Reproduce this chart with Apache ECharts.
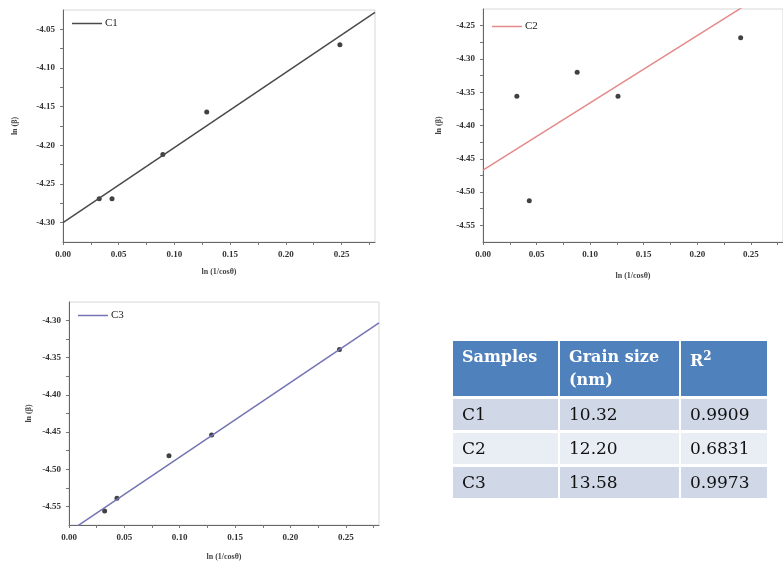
<!DOCTYPE html>
<html>
<head>
<meta charset="utf-8">
<script src="https://cdn.jsdelivr.net/npm/echarts@6/dist/echarts.min.js"></script>
<style>
  html, body { margin: 0; padding: 0; background: #fff; }
  #wrap { position: relative; width: 783px; height: 562px; }
  #chart { position: absolute; left: 0; top: 0; width: 783px; height: 562px; }
  #grain {
    position: absolute; left: 453px; top: 341px;
    border-collapse: separate; border-spacing: 0; table-layout: fixed;
    font-family: 'DejaVu Serif', serif; font-size: 17px; color: #111;
  }
  #grain th, #grain td {
    text-align: left; vertical-align: top;
    border-right: 2px solid #fff; border-bottom: 3px solid #fff;
    padding: 0 0 0 9px;
  }
  #grain th { background: #4f81bd; color: #fff; font-weight: bold; font-size: 16px; height: 51px; line-height: 23px; padding-top: 4px; }
  #grain td { height: 31px; line-height: 31px; }
  #grain tr.odd td { background: #d0d8e8; }
  #grain tr.even td { background: #e9edf4; }
</style>
</head>
<body>
<div id="wrap">
  <div id="chart"></div>
  <table id="grain"></table>
</div>
<script>
// x = ln(1/cos theta), y = ln(beta)
const xC1 = [0.0325, 0.044, 0.0896, 0.129, 0.2485];
const yC1 = [-4.269, -4.269, -4.212, -4.157, -4.070];
const xC2 = [0.0316, 0.0432, 0.0879, 0.126, 0.2405];
const yC2 = [-4.356, -4.513, -4.320, -4.356, -4.268];
const xC3 = [0.0322, 0.0433, 0.0903, 0.1288, 0.2443];
const yC3 = [-4.556, -4.539, -4.482, -4.454, -4.339];

// linear fit end points
const fitC1 = [[0, -4.300], [0.28, -4.028]];
const fitC2 = [[0, -4.467], [0.28, -4.184]];
const fitC3 = [[0, -4.584], [0.28, -4.303]];

const sampleNames = ['C1', 'C2', 'C3'];
const grainSizes = ['10.32', '12.20', '13.58'];
const rSquared = ['0.9909', '0.6831', '0.9973'];
const tableHead = ['Samples', 'Grain size<br>(nm)', 'R<sup style="font-size:12px;vertical-align:6px">2</sup>'];

const yRanges = [[-4.325, -4.025], [-4.575, -4.225], [-4.575, -4.275]];
const lineColors = ['#4a4a4a', '#e48a8a', '#7474b4'];

const chart = echarts.init(document.getElementById('chart'), null, { renderer: 'canvas' });

const serif = 'Liberation Serif';
const grids = [
  { left: 63, top: 10, width: 312, height: 232 },
  { left: 483, top: 9, width: 322, height: 233 },
  { left: 69, top: 302, width: 310, height: 224 }
];
const yNameGap = [44, 40, 36];
const xNameGap = [26, 30, 28];
const legendTop = [13, 16, 305];

function pairs(xs, ys) {
  return xs.map((x, i) => [x, ys[i]]);
}

const option = {
  animation: false,
  grid: grids.map(g => Object.assign({ show: true, borderColor: '#d8d8d8', borderWidth: 1 }, g)),
  legend: grids.map((g, i) => ({
    data: [sampleNames[i]],
    left: g.left + 4,
    top: legendTop[i],
    icon: 'rect',
    itemWidth: 30,
    itemHeight: 1.5,
    itemGap: 2,
    textStyle: { fontFamily: serif, fontSize: 11, color: '#222', padding: [0, 0, 0, -2] }
  })),
  xAxis: grids.map((g, i) => ({
    type: 'value',
    gridIndex: i,
    min: 0,
    max: 0.28,
    interval: 0.025,
    name: 'ln (1/cosθ)',
    nameLocation: 'middle',
    nameGap: xNameGap[i],
    nameTextStyle: { fontFamily: serif, fontSize: 8, fontWeight: 'bold', color: '#444' },
    axisLine: { onZero: false, lineStyle: { color: '#666', width: 1 } },
    axisTick: { show: true, length: 3, lineStyle: { color: '#777' } },
    splitLine: { show: false },
    axisLabel: {
      showMaxLabel: false,
      margin: 8,
      fontFamily: serif, fontSize: 9, fontWeight: 'bold', color: '#333',
      formatter: v => (Math.abs(v * 20 - Math.round(v * 20)) < 1e-6 ? v.toFixed(2) : '')
    }
  })),
  yAxis: grids.map((g, i) => ({
    type: 'value',
    gridIndex: i,
    min: yRanges[i][0],
    max: yRanges[i][1],
    interval: 0.025,
    name: 'ln (β)',
    nameLocation: 'middle',
    nameRotate: 90,
    nameGap: yNameGap[i],
    nameTextStyle: { fontFamily: serif, fontSize: 8, fontWeight: 'bold', color: '#444' },
    axisLine: { show: true, onZero: false, lineStyle: { color: '#666', width: 1 } },
    axisTick: { show: true, length: 3, lineStyle: { color: '#777' } },
    splitLine: { show: false },
    axisLabel: {
      showMinLabel: false,
      showMaxLabel: false,
      margin: 8,
      fontFamily: serif, fontSize: 9, fontWeight: 'bold', color: '#333',
      formatter: v => (Math.abs(v * 20 - Math.round(v * 20)) < 1e-6 ? v.toFixed(2) : '')
    }
  })),
  series: [
    { xs: xC1, ys: yC1, fit: fitC1 },
    { xs: xC2, ys: yC2, fit: fitC2 },
    { xs: xC3, ys: yC3, fit: fitC3 }
  ].flatMap((s, i) => [
    {
      name: sampleNames[i],
      type: 'line',
      xAxisIndex: i,
      yAxisIndex: i,
      data: s.fit,
      symbol: 'none',
      clip: true,
      color: lineColors[i],
      lineStyle: { width: 1.5, color: lineColors[i] }
    },
    {
      name: sampleNames[i] + ' data',
      type: 'scatter',
      xAxisIndex: i,
      yAxisIndex: i,
      data: pairs(s.xs, s.ys),
      symbol: 'circle',
      symbolSize: 5,
      itemStyle: { color: '#111' }
    }
  ])
};

chart.setOption(option);

// results table
const colWidths = [96, 110, 77];
let html = '<tr>' + tableHead.map((h, i) => '<th style="width:' + colWidths[i] + 'px">' + h + '</th>').join('') + '</tr>';
sampleNames.forEach((s, i) => {
  html += '<tr class="' + (i % 2 === 0 ? 'odd' : 'even') + '"><td>' + s + '</td><td>' + grainSizes[i] + '</td><td>' + rSquared[i] + '</td></tr>';
});
document.getElementById('grain').innerHTML = html;
</script>
</body>
</html>
